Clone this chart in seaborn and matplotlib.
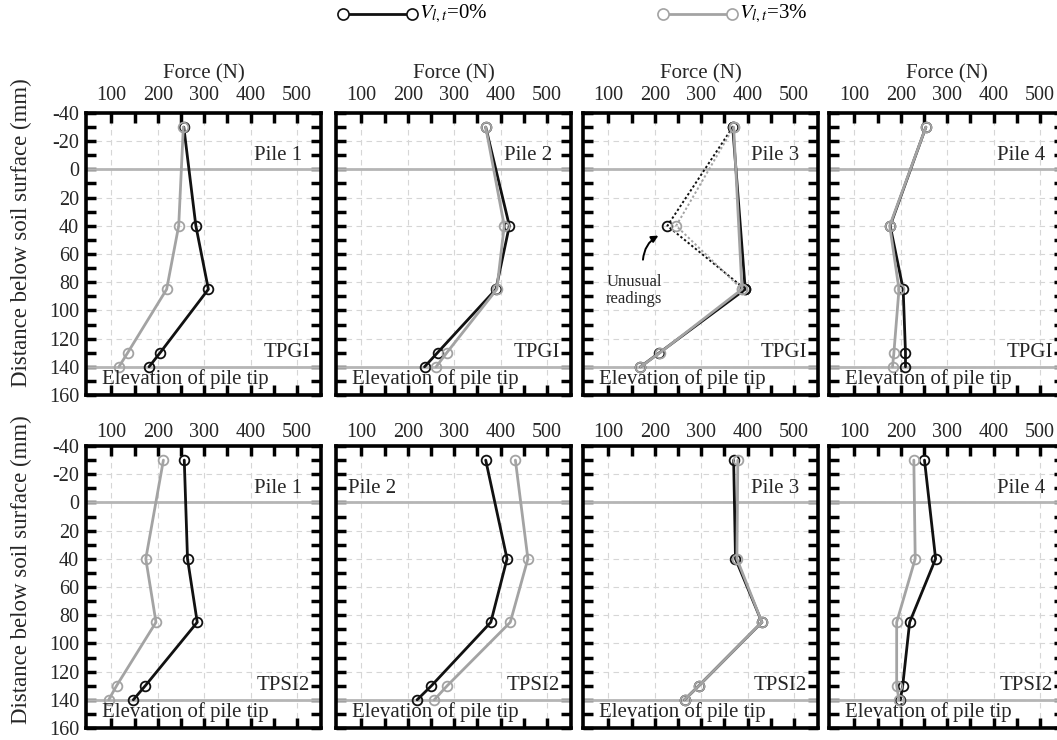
import matplotlib
matplotlib.use("Agg")
import matplotlib.pyplot as plt
import seaborn as sns
import pandas as pd
from matplotlib.lines import Line2D
from matplotlib.ticker import FixedLocator

sns.set_theme(style="white")
plt.rcParams["font.family"] = ["Liberation Serif", "DejaVu Serif"]
plt.rcParams["mathtext.fontset"] = "stix"
plt.rcParams["axes.unicode_minus"] = False

# Measurement depths below the soil surface (mm)
depth = [-30, 40, 85, 130, 140]

piles = ["Pile 1", "Pile 2", "Pile 3", "Pile 4"]
tests = ["TPGI", "TPSI2"]
series_labels = [r"$V_{l,t}$=0%", r"$V_{l,t}$=3%"]

# Axial force (N) at each depth, test TPGI
tpgi_v0 = [
    [256, 282, 309, 205, 181],
    [368, 419, 390, 264, 236],
    [368, 227, 395, 210, 169],
    [254, 177, 205, 210, 210],
]
tpgi_v3 = [
    [255, 245, 219, 135, 116],
    [368, 408, 392, 284, 261],
    [370, 246, 388, 211, 169],
    [254, 176, 196, 185, 182],
]
# Axial force (N) at each depth, test TPSI2
tpsi2_v0 = [
    [257, 264, 285, 173, 147],
    [368, 414, 379, 251, 220],
    [370, 374, 431, 295, 264],
    [251, 275, 219, 204, 199],
]
tpsi2_v3 = [
    [212, 174, 196, 111, 94],
    [432, 459, 421, 285, 257],
    [379, 377, 431, 295, 264],
    [228, 231, 191, 191, 196],
]

# Pile 3 in TPGI: the reading at 40 mm is treated as unusual
unusual_test, unusual_pile, unusual_depth = "TPGI", 2, 40

x_ticks = [100, 200, 300, 400, 500]
y_ticks = [-40, -20, 0, 20, 40, 60, 80, 100, 120, 140, 160]
surface_level = 0
tip_level = 140

BLACK = "#111111"
GREY = "#a3a3a3"
FS_TICK = 14.5
FS_TEXT = 15

fig = plt.figure(figsize=(10.57, 7.40), dpi=100)

W, H = 1057, 740
col_left = [86, 336, 583, 829]
row_top = [113, 446]
ax_w, ax_h = 235, 282
row_tick_pad = [5.5, 3]
row_ylabel_y = [0.575, 0.56]

data = {
    "TPGI": (tpgi_v0, tpgi_v3),
    "TPSI2": (tpsi2_v0, tpsi2_v3),
}


def draw_series(ax, xs, ys, color, ls="-", lw=2.0):
    df = pd.DataFrame({"force": xs, "depth": ys})
    sns.lineplot(data=df, x="force", y="depth", ax=ax, sort=False,
                 estimator=None, color=color, lw=lw, linestyle=ls,
                 marker="o", markersize=7, markerfacecolor="none",
                 markeredgecolor=color, markeredgewidth=1.3)


for r, test in enumerate(tests):
    v0_all, v3_all = data[test]
    for c in range(4):
        left = col_left[c] / W
        bottom = 1 - (row_top[r] + ax_h) / H
        ax = fig.add_axes([left, bottom, ax_w / W, ax_h / H])

        for vals, color in ((v0_all[c], BLACK), (v3_all[c], GREY)):
            if test == unusual_test and c == unusual_pile:
                k = depth.index(unusual_depth)
                keep = [i for i in range(len(depth)) if i != k]
                draw_series(ax, [vals[i] for i in keep],
                            [depth[i] for i in keep], color)
                draw_series(ax, vals[:3], depth[:3], color, ls=(0, (1.2, 1.2)), lw=1.4)
            else:
                draw_series(ax, vals, depth, color)

        ax.axhline(surface_level, color="#b5b5b5", lw=2, zorder=1)
        ax.axhline(tip_level, color="#b5b5b5", lw=2, zorder=1)

        ax.set_xlim(45, 552)
        ax.set_ylim(160, -40)
        ax.xaxis.set_major_locator(FixedLocator(x_ticks))
        ax.xaxis.set_minor_locator(FixedLocator([150, 250, 350, 450]))
        ax.yaxis.set_major_locator(FixedLocator(y_ticks))
        ax.yaxis.set_minor_locator(FixedLocator(list(range(-30, 160, 20))))
        ax.grid(True, which="major", color="#d6d6d6", lw=0.8, ls=(0, (5, 4)))
        ax.set_axisbelow(True)

        ax.tick_params(axis="both", which="both", direction="in", length=7,
                       width=2.5, color="black", top=True, bottom=True,
                       left=True, right=True, labelsize=FS_TICK)
        ax.tick_params(axis="x", labeltop=True, labelbottom=False,
                       pad=row_tick_pad[r])
        ax.tick_params(axis="y", labelleft=(c == 0), pad=5)
        ax.xaxis.set_label_position("top")
        ax.set_xlabel("Force (N)" if r == 0 else "", fontsize=FS_TEXT, labelpad=6)
        if c == 0:
            ax.set_ylabel("Distance below soil surface (mm)", fontsize=16.5)
            ax.yaxis.set_label_coords(-0.23, row_ylabel_y[r])
        else:
            ax.set_ylabel("")
        for sp in ax.spines.values():
            sp.set_linewidth(2.6)
            sp.set_color("black")

        if r == 1 and c == 1:
            ax.text(71, -10, piles[c], ha="left", va="center", fontsize=FS_TEXT)
        else:
            ax.text(512, -10, piles[c], ha="right", va="center", fontsize=FS_TEXT)
        ax.text(529, 130, test, ha="right", va="center", fontsize=FS_TEXT)
        ax.text(80, 149, "Elevation of pile tip", ha="left", va="center",
                fontsize=FS_TEXT)

        if test == unusual_test and c == unusual_pile:
            ax.text(155, 86, "Unusual\nreadings", ha="center", va="center",
                    fontsize=12, linespacing=1.1)
            ax.annotate("", xy=(213, 46), xytext=(174, 66),
                        arrowprops=dict(arrowstyle="-|>", color="black", lw=1.4,
                                        connectionstyle="arc3,rad=-0.3",
                                        mutation_scale=10))

# Legend along the top edge
for (x0, x1), color, label in (((343, 412), BLACK, series_labels[0]),
                               ((663, 732), GREY, series_labels[1])):
    fig.add_artist(Line2D([x0 / W, x1 / W], [1 - 14 / H, 1 - 14 / H],
                          transform=fig.transFigure, color=color, lw=2,
                          marker="o", markersize=8, markerfacecolor="white",
                          markeredgecolor=color, markeredgewidth=1.2))
    fig.text((x1 + 7) / W, 1 - 14 / H, label, ha="left", va="center",
             fontsize=FS_TEXT, color="black")

fig.savefig("out.png", dpi=100)
